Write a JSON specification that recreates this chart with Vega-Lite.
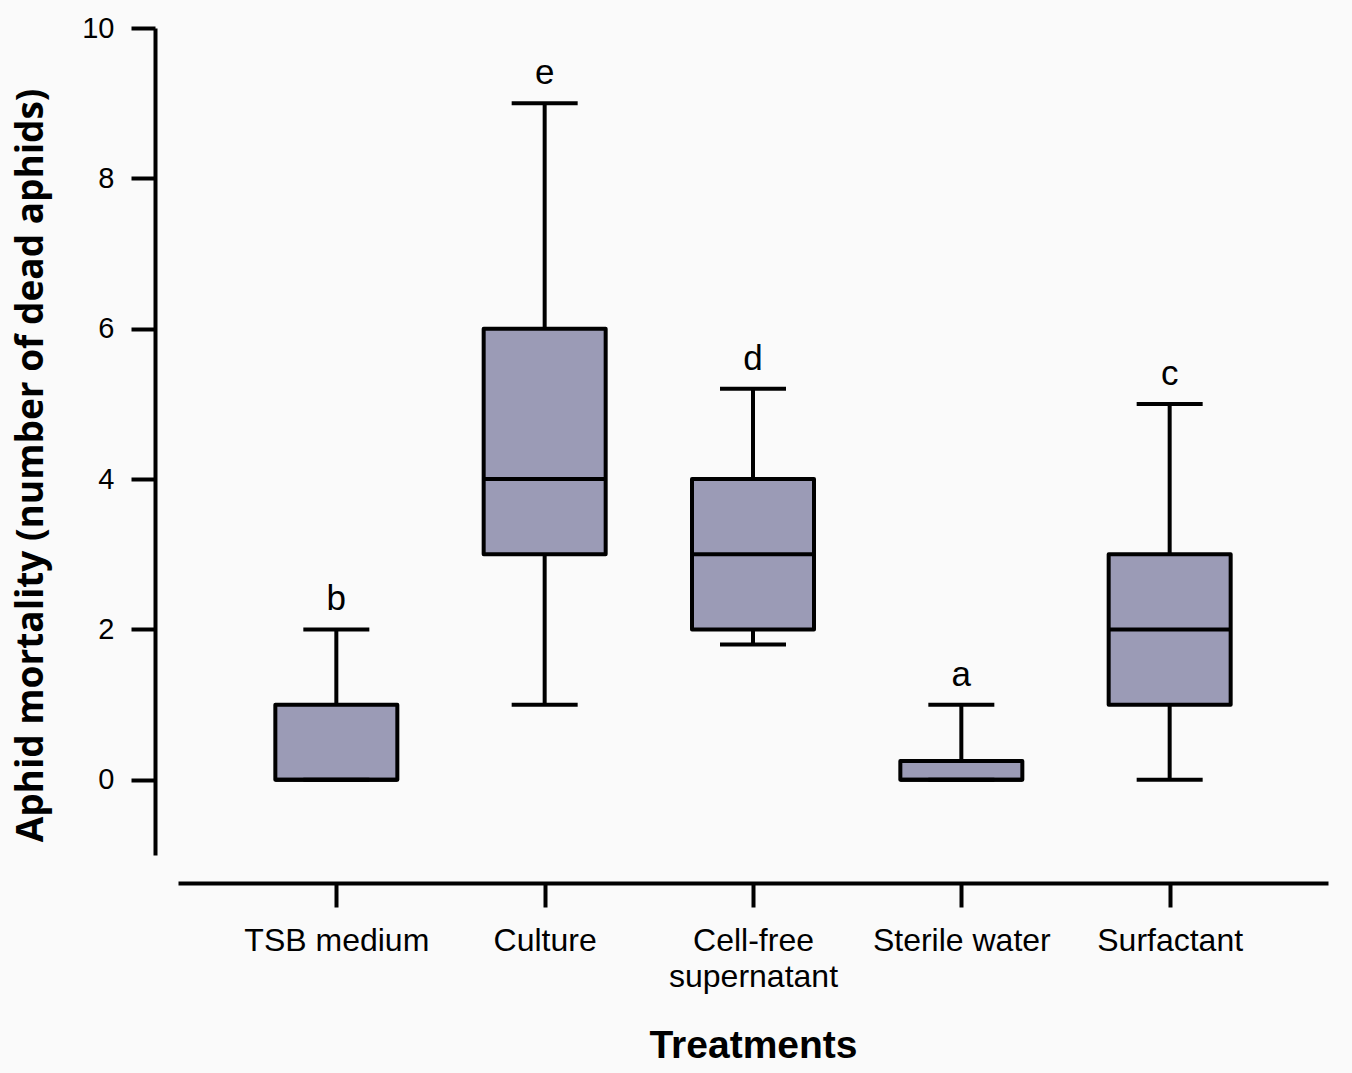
{
  "$schema": "https://vega.github.io/schema/vega-lite/v6.json",
  "autosize": "none",
  "width": 1150,
  "height": 827,
  "padding": {"left": 178, "top": 28, "right": 24, "bottom": 218},
  "background": "#fafafa",
  "config": {
    "view": {"stroke": null},
    "font": "Liberation Sans"
  },
  "data": {
    "values": [
      {"treatment": "TSB medium", "min": 0, "q1": 0, "median": 0, "q3": 1, "max": 2, "letter": "b"},
      {"treatment": "Culture", "min": 1, "q1": 3, "median": 4, "q3": 6, "max": 9, "letter": "e"},
      {"treatment": "Cell-free supernatant", "min": 1.8, "q1": 2, "median": 3, "q3": 4, "max": 5.2, "letter": "d"},
      {"treatment": "Sterile water", "min": 0, "q1": 0, "median": 0, "q3": 0.25, "max": 1, "letter": "a"},
      {"treatment": "Surfactant", "min": 0, "q1": 1, "median": 2, "q3": 3, "max": 5, "letter": "c"}
    ]
  },
  "encoding": {
    "x": {
      "field": "treatment",
      "type": "nominal",
      "sort": null,
      "scale": {"type": "point", "padding": 0.76},
      "axis": {
        "title": "Treatments",
        "titleFont": "Liberation Sans",
        "titleFontSize": 39,
        "titleFontWeight": "bold",
        "titleColor": "#000",
        "titlePadding": 34,
        "offset": 28,
        "domainColor": "#000",
        "domainWidth": 4,
        "tickColor": "#000",
        "tickWidth": 4,
        "tickSize": 24,
        "labelFontSize": 32,
        "labelColor": "#000",
        "labelPadding": 18,
        "labelAngle": 0,
        "labelLimit": 0,
        "labelLineHeight": 36,
        "labelExpr": "datum.label == 'Cell-free supernatant' ? ['Cell-free', 'supernatant'] : datum.label"
      }
    }
  },
  "layer": [
    {
      "mark": {"type": "rule", "color": "#000", "strokeWidth": 4},
      "encoding": {
        "y": {
          "field": "min",
          "type": "quantitative",
          "scale": {"domain": [-1, 10], "nice": false, "zero": false},
          "axis": {
            "title": "Aphid mortality (number of dead aphids)",
            "titleFont": "Open Sans",
            "titleFontSize": 37,
            "titleFontWeight": "bold",
            "titleColor": "#000",
            "titleY": 437,
            "titleX": -113,
            "titleBaseline": "alphabetic",
            "titleLimit": 0,
            "offset": 23,
            "values": [0, 2, 4, 6, 8, 10],
            "format": "d",
            "grid": false,
            "domainColor": "#000",
            "domainWidth": 4,
            "tickColor": "#000",
            "tickWidth": 4,
            "tickSize": 24,
            "labelFontSize": 29,
            "labelColor": "#000",
            "labelPadding": 17
          }
        },
        "y2": {"field": "max"}
      }
    },
    {
      "mark": {"type": "bar", "width": 122, "fill": "#9b9bb6", "stroke": "#000", "strokeWidth": 4, "strokeJoin": "round"},
      "encoding": {
        "y": {"field": "q1", "type": "quantitative"},
        "y2": {"field": "q3"}
      }
    },
    {
      "mark": {"type": "tick", "color": "#000", "size": 122, "thickness": 4, "opacity": 1},
      "encoding": {
        "y": {"field": "median", "type": "quantitative"}
      }
    },
    {
      "mark": {"type": "tick", "color": "#000", "size": 66, "thickness": 4, "opacity": 1},
      "encoding": {
        "y": {"field": "max", "type": "quantitative"}
      }
    },
    {
      "mark": {"type": "tick", "color": "#000", "size": 66, "thickness": 4, "opacity": 1},
      "encoding": {
        "y": {"field": "min", "type": "quantitative"}
      }
    },
    {
      "mark": {"type": "text", "font": "Liberation Sans", "fontSize": 35, "color": "#000", "baseline": "alphabetic", "dy": -19},
      "encoding": {
        "y": {"field": "max", "type": "quantitative"},
        "text": {"field": "letter"}
      }
    }
  ]
}
